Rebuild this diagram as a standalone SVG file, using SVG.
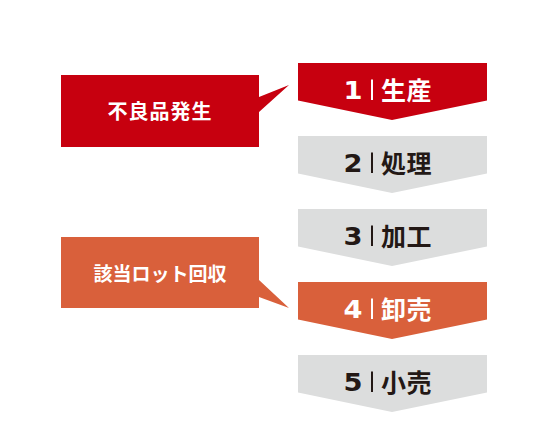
<svg xmlns="http://www.w3.org/2000/svg" width="548" height="447" viewBox="0 0 548 447">
<style>
.red{fill:#c7000f}
.org{fill:#d9603b}
.gray{fill:#dcdddd}
.num{font-family:"DejaVu Sans","Liberation Sans",sans-serif;font-weight:bold;font-size:24px;text-anchor:middle}
.kj{font-family:"Noto Sans CJK JP","Noto Sans",sans-serif;font-weight:bold;font-size:25px;letter-spacing:0.5px}
.call{font-family:"Noto Sans CJK JP","Noto Sans",sans-serif;font-weight:bold;fill:#ffffff;text-anchor:middle}
.w{fill:#ffffff}
.k{fill:#231815}
.barw{stroke:#ffffff;stroke-width:2}
.bark{stroke:#231815;stroke-width:2}
</style>
<rect width="548" height="447" fill="#ffffff"/>
<g id="connectors"></g>
<g id="callout-defect">
<path class="red" d="M61,75 H259 V97 L289,85 L259,112 V147 H61 Z"/>
<text class="call" x="160" y="119" font-size="20" letter-spacing="1">不良品発生</text>
</g>
<g id="callout-recall">
<path class="org" d="M61,237 H259 V280 L289,308 L259,297 V308 H61 Z"/>
<text class="call" x="160" y="280.5" font-size="19">該当ロット回収</text>
</g>
<g id="step1">
<path class="red" d="M298,63 H487 V100.5 L392,120 L298,100.5 Z"/>
<text class="num w" x="353" y="99" textLength="19" lengthAdjust="spacingAndGlyphs">1</text>
<line class="barw" x1="372" y1="79.5" x2="372" y2="100"/>
<text class="kj w" x="381" y="99.5">生産</text>
</g>
<g id="step2">
<path class="gray" d="M298,136 H487 V173.5 L392,193 L298,173.5 Z"/>
<text class="num k" x="353" y="172" textLength="19" lengthAdjust="spacingAndGlyphs">2</text>
<line class="bark" x1="372" y1="152.5" x2="372" y2="173"/>
<text class="kj k" x="381" y="172.5">処理</text>
</g>
<g id="step3">
<path class="gray" d="M298,209 H487 V246.5 L392,266 L298,246.5 Z"/>
<text class="num k" x="353" y="245" textLength="19" lengthAdjust="spacingAndGlyphs">3</text>
<line class="bark" x1="372" y1="225.5" x2="372" y2="246"/>
<text class="kj k" x="381" y="245.5">加工</text>
</g>
<g id="step4">
<path class="org" d="M298,282 H487 V319.5 L392,339 L298,319.5 Z"/>
<text class="num w" x="353" y="318" textLength="19" lengthAdjust="spacingAndGlyphs">4</text>
<line class="barw" x1="372" y1="298.5" x2="372" y2="319"/>
<text class="kj w" x="381" y="318.5">卸売</text>
</g>
<g id="step5">
<path class="gray" d="M298,355 H487 V392.5 L392,412 L298,392.5 Z"/>
<text class="num k" x="353" y="391" textLength="19" lengthAdjust="spacingAndGlyphs">5</text>
<line class="bark" x1="372" y1="371.5" x2="372" y2="392"/>
<text class="kj k" x="381" y="391.5">小売</text>
</g>
</svg>
